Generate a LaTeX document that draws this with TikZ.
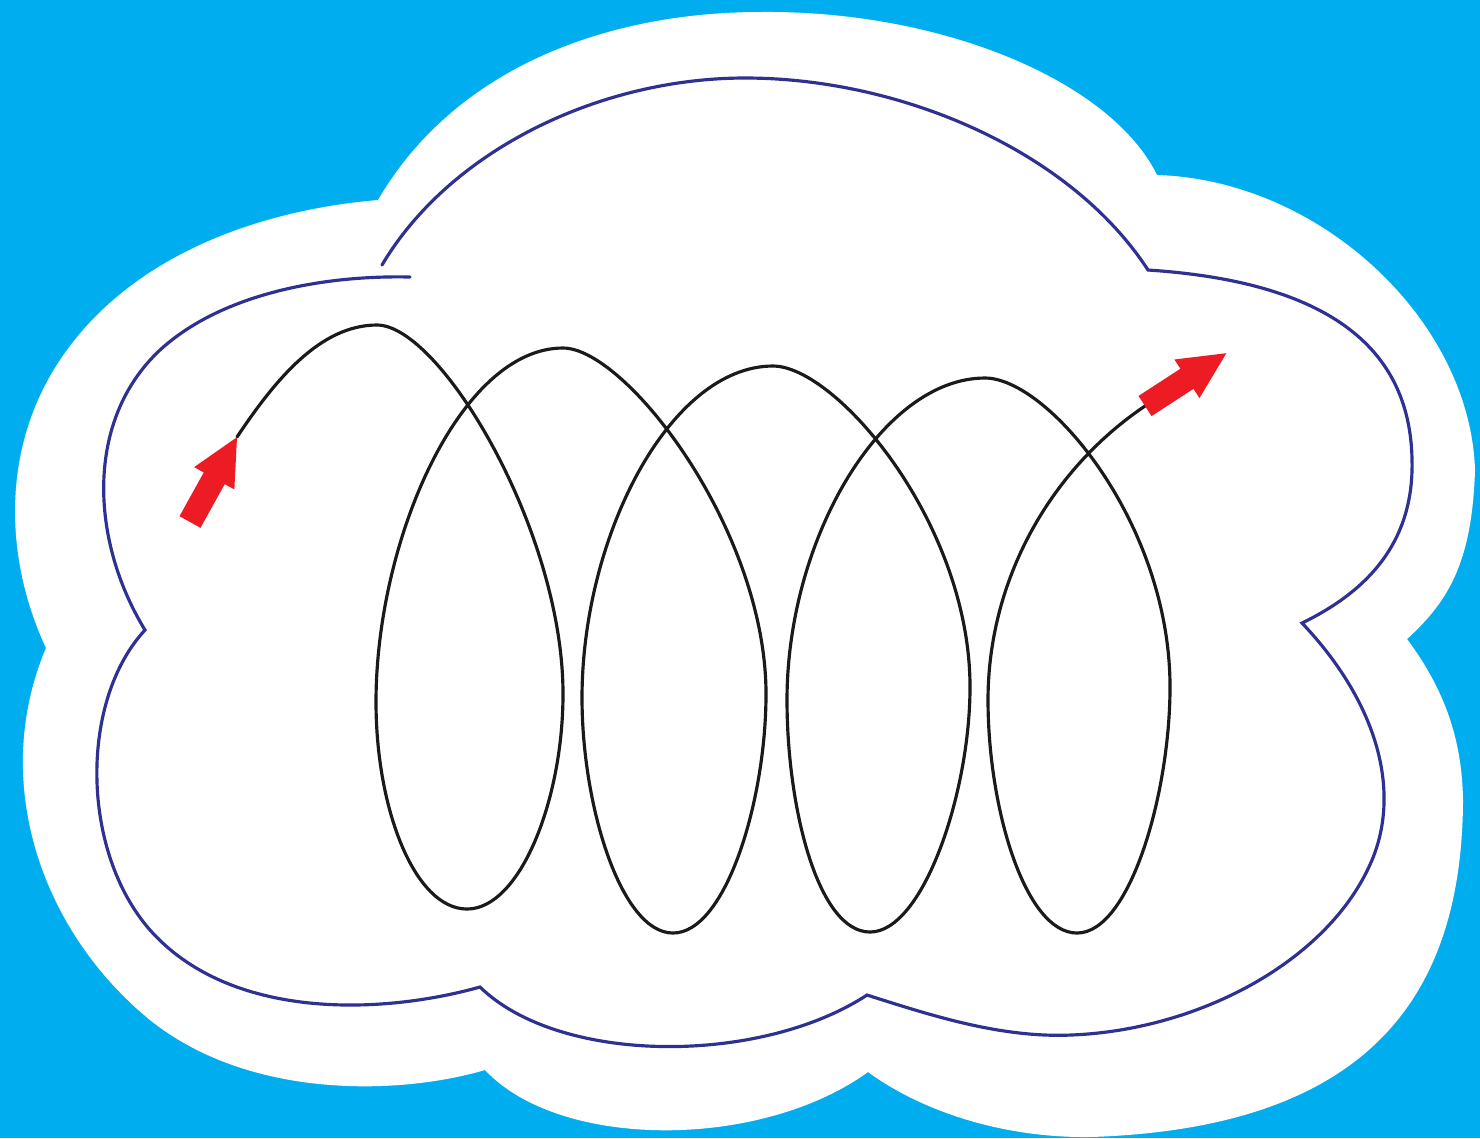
\documentclass[tikz,border=0pt]{standalone}
\usepackage{xcolor}
\usepackage{tikz}
\definecolor{SKY}{HTML}{00AEEF}
\definecolor{RIM}{HTML}{2E3192}
\definecolor{INK}{HTML}{1A1A1A}
\definecolor{ARR}{HTML}{ED1C24}

\begin{document}
\begin{tikzpicture}[
    x=0.01cm, y=-0.01cm,
    sky/.style={fill=SKY},
    cloud/.style={fill=white},
    rim/.style={draw=RIM, line width=0.9pt, line cap=round},
    coil/.style={draw=INK, line width=0.9pt, line cap=round},
    blockarrow/.style={fill=ARR},
  ]

  % background
  \fill[sky] (0,0) rectangle (1480,1138);
  \useasboundingbox (0,0) rectangle (1480,1138);

  % white cloud
  \fill[cloud] (378,200) .. controls (460,60) and (620,12) .. (760,12)
    .. controls (940,10) and (1110,80) .. (1157,175)
    .. controls (1320,180) and (1470,320) .. (1475,470)
    .. controls (1472,560) and (1450,600) .. (1407,639)
    .. controls (1445,690) and (1462,740) .. (1463,800)
    .. controls (1462,990) and (1375,1128) .. (1090,1137)
    .. controls (1000,1138) and (920,1110) .. (868,1072)
    .. controls (760,1150) and (560,1150) .. (485,1070)
    .. controls (400,1095) and (250,1100) .. (150,1020)
    .. controls (40,930) and (-10,780) .. (46,648)
    .. controls (5,560) and (0,450) .. (60,360)
    .. controls (130,255) and (260,210) .. (378,200) -- cycle;

  % inner rim
  \draw[rim] (382,265) .. controls (450,150) and (600,78) .. (745,78)
    .. controls (900,78) and (1070,150) .. (1148,270)
    .. controls (1300,280) and (1410,330) .. (1412,460)
    .. controls (1414,540) and (1370,590) .. (1302,623)
    .. controls (1375,700) and (1402,788) .. (1372,860)
    .. controls (1330,960) and (1200,1030) .. (1071,1035)
    .. controls (1000,1038) and (930,1015) .. (867,995)
    .. controls (760,1065) and (560,1065) .. (480,987)
    .. controls (380,1015) and (230,1020) .. (150,930)
    .. controls (80,850) and (80,700) .. (145,630)
    .. controls (90,540) and (85,420) .. (160,350)
    .. controls (220,295) and (320,275) .. (410,277);

  % coil
  \draw[coil] (237,437) .. controls (275,380) and (320,325) .. (377,325)
    % loop 1
    .. controls (440,325) and (563,530) .. (563,694)
    .. controls (563,800) and (520,909) .. (467,909)
    .. controls (415,909) and (376,810) .. (376,702)
    .. controls (376,540) and (460,348) .. (563,348)
    % loop 2
    .. controls (626,348) and (766,530) .. (766,694)
    .. controls (766,800) and (726,933) .. (673,933)
    .. controls (621,933) and (582,806) .. (582,698)
    .. controls (582,536) and (670,366) .. (773,366)
    % loop 3
    .. controls (836,366) and (970,523) .. (970,687)
    .. controls (970,793) and (923,932) .. (870,932)
    .. controls (818,932) and (787,808) .. (787,700)
    .. controls (787,538) and (882,378) .. (985,378)
    % loop 4
    .. controls (1048,378) and (1170,523) .. (1170,687)
    .. controls (1170,793) and (1130,933) .. (1077,933)
    .. controls (1025,933) and (988,808) .. (988,700)
    .. controls (988,580) and (1050,470) .. (1145,406);

  % red arrows
  \foreach \px/\py/\ang in {190/522/61, 1145/406/33} {
    \begin{scope}[shift={(\px,\py)}, rotate=\ang]
      \fill[blockarrow] (0,-12) -- (50,-12) -- (50,-23) -- (97,0)
        -- (50,23) -- (50,12) -- (0,12) -- cycle;
    \end{scope}
  }

\end{tikzpicture}
\end{document}
